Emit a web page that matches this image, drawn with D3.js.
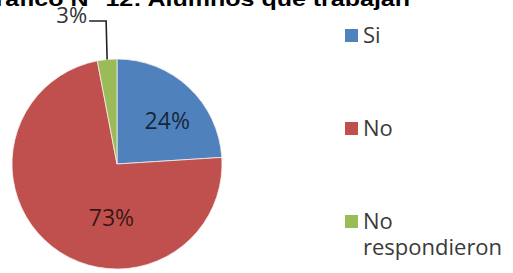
<!DOCTYPE html>
<html>
<head>
<meta charset="utf-8">
<script src="https://cdn.jsdelivr.net/npm/d3@7"></script>
<style>
  html, body { margin: 0; padding: 0; background: #fff; overflow: hidden; }
  svg { display: block; }
</style>
</head>
<body>
<svg id="chart" width="513" height="273"></svg>
<script>
// ---- data ----
const titleText = "Gráfico N° 12: Alumnos que trabajan";
const categories = ["Si", "No", "No respondieron"];
const values = [24, 73, 3];
const labels = ["24%", "73%", "3%"];
const legendLines = [["Si"], ["No"], ["No", "respondieron"]];
const colors = ["#4f81bd", "#c0504d", "#9bbb59"];

// ---- layout ----
const W = 513, H = 273;
const cx = 117, cy = 164, R = 105;
const svg = d3.select("#chart");

// title (mostly clipped at top, as in reference)
svg.append("text")
  .attr("x", -24).attr("y", 6)
  .attr("font-family", "Liberation Sans, Arial, sans-serif")
  .attr("font-weight", "bold")
  .attr("font-size", 20)
  .attr("fill", "#000")
  .attr("textLength", 434)
  .attr("lengthAdjust", "spacingAndGlyphs")
  .text(titleText);

const pie = d3.pie().sort(null).value(d => d)(values);
const arc = d3.arc().innerRadius(0).outerRadius(R);
const labelArc = d3.arc().innerRadius(R * 0.63).outerRadius(R * 0.63);

const g = svg.append("g").attr("transform", `translate(${cx},${cy})`);

g.selectAll("path.slice")
  .data(pie)
  .join("path")
  .attr("class", "slice")
  .attr("d", arc)
  .attr("fill", (d, i) => colors[i])
  .attr("stroke", "#f4eeee")
  .attr("stroke-width", 0.8);

// inside labels (Excel-style manual nudges)
const labelNudge = [[5, 4], [35, 1]];
[0, 1].forEach(i => {
  const c = labelArc.centroid(pie[i]);
  g.append("text")
    .attr("x", c[0] + labelNudge[i][0])
    .attr("y", c[1] + labelNudge[i][1])
    .attr("text-anchor", "middle")
    .attr("dominant-baseline", "central")
    .attr("font-family", "Open Sans, sans-serif")
    .attr("font-size", 23)
    .attr("fill", "#000")
    .attr("fill-opacity", 0.72)
    .text(labels[i]);
});

// outside label with leader line for the small slice
{
  const d = pie[2];
  const mid = (d.startAngle + d.endAngle) / 2;
  const px = R * Math.sin(mid), py = -R * Math.cos(mid);
  const elbowY = 21 - cy;
  const pts = [[px, py], [px - 1, elbowY], [px - 18, elbowY]];
  g.append("path")
    .attr("d", d3.line()(pts))
    .attr("fill", "none")
    .attr("stroke", "#222")
    .attr("stroke-width", 1.6);
  g.append("text")
    .attr("x", px - 20)
    .attr("y", elbowY + 2)
    .attr("text-anchor", "end")
    .attr("font-family", "Open Sans, sans-serif")
    .attr("font-size", 22)
    .attr("fill", "#333")
    .text(labels[2]);
}

// legend
const legendY = d3.scalePoint().domain(categories).range([43, 229]);
const lg = svg.append("g");
categories.forEach((c, i) => {
  const base = legendY(c);
  lg.append("rect")
    .attr("x", 345).attr("y", base - 14)
    .attr("width", 13).attr("height", 13)
    .attr("fill", colors[i]);
  lg.append("text")
    .attr("x", 363).attr("y", base)
    .attr("font-family", "Open Sans, sans-serif")
    .attr("font-size", 22)
    .attr("fill", "#3a3a3a")
    .selectAll("tspan")
    .data(legendLines[i])
    .join("tspan")
    .attr("x", 363)
    .attr("dy", (t, j) => j === 0 ? 0 : 26)
    .text(t => t);
});
</script>
</body>
</html>
